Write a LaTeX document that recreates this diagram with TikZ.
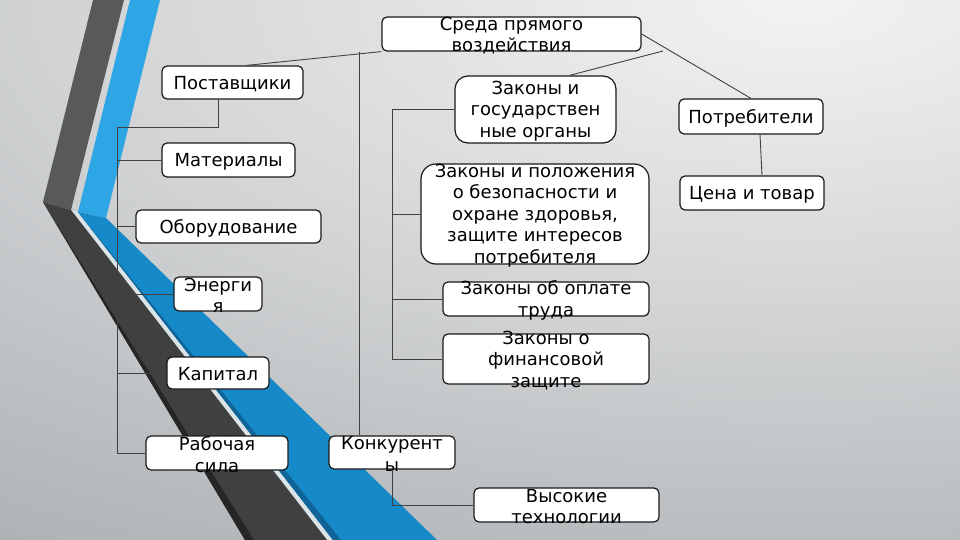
\documentclass[tikz,border=0pt]{standalone}
\usepackage{fontspec}
\setmainfont{DejaVu Sans}
\usepackage{tikz}

\definecolor{bgin}{HTML}{F3F3F3}
\definecolor{bgout}{HTML}{AEB2B5}
\definecolor{darkup}{HTML}{58595B}
\definecolor{darklow}{HTML}{404040}
\definecolor{bluup}{HTML}{2EA5E4}
\definecolor{blulow}{HTML}{1689C8}
\definecolor{blushade}{HTML}{0F6397}
\definecolor{gapline}{HTML}{D9E3E8}

\begin{document}
\begin{tikzpicture}[x=1pt,y=-1pt,
	box/.style 2 args={draw=black!90, fill=white, line width=1.2pt, rounded corners=5pt, minimum width=#1, minimum height=#2, inner sep=0pt},
	txt/.style={font=\fontsize{18}{21.5}\selectfont, align=center, inner sep=0pt, yshift=-1.5pt},
	link/.style={draw=black!75, line width=0.9pt}]
		\useasboundingbox (0,0) rectangle (960,540);
		\fill[bgout] (0,0) rectangle (960,540);
		\begin{scope}
			\clip (0,0) rectangle (960,540);
			\shade[inner color=bgin, outer color=bgout] (800,0) ellipse [x radius=1500, y radius=650];
		\end{scope}
		\fill[darkup] (93,0) -- (124,0) -- (71,210) -- (43,202) -- cycle;
		\fill[bluup] (130,0) -- (160,0) -- (106,218) -- (78,212) -- cycle;
		\fill[gapline] (71,210) -- (78,212) -- (333,540) -- (327,540) -- cycle;
		\fill[darklow] (43,202) -- (71,210) -- (327,540) -- (245,540) -- cycle;
		\fill[black!85] (43,202) -- (254,540) -- (245,540) -- cycle;
		\fill[blulow] (78,212) -- (106,218) -- (437,540) -- (333,540) -- cycle;
		\fill[blushade] (78,212) -- (341,540) -- (333,540) -- cycle;

		\node[box={259}{34}, label={[txt]center:{Среда прямого\\воздействия}}] (sreda) at (511.5,34) {};
		\node[box={141}{33}, label={[txt]center:{Поставщики}}] (post) at (232.5,82.5) {};
		\node[box={133}{34}, label={[txt]center:{Материалы}}] (mat) at (228.5,160) {};
		\node[box={185}{33}, label={[txt]center:{Оборудование}}] (obo) at (228.5,226.5) {};
		\node[box={88}{34}, label={[txt]center:{Энерги\\я}}] (ener) at (218,294) {};
		\node[box={102}{32}, label={[txt]center:{Капитал}}] (kap) at (218,373) {};
		\node[box={142}{34}, label={[txt]center:{Рабочая\\сила}}] (rab) at (217,453) {};
		\node[box={126}{33}, label={[txt]center:{Конкурент\\ы}}] (konk) at (392,452.5) {};
		\node[box={185}{34}, label={[txt]center:{Высокие\\технологии}}] (vys) at (566.5,505) {};
		\node[box={161}{67}, rounded corners=13pt, label={[txt]center:{Законы и\\государствен\\ные органы}}] (zak1) at (535.5,109.5) {};
		\node[box={228}{100}, rounded corners=15pt, label={[txt]center:{Законы и положения\\о безопасности и\\охране здоровья,\\защите интересов\\потребителя}}] (zak2) at (535,214) {};
		\node[box={206}{34}, label={[txt]center:{Законы об оплате\\труда}}] (zak3) at (546,299) {};
		\node[box={206}{50}, label={[txt]center:{Законы о\\финансовой\\защите}}] (zak4) at (546,359) {};
		\node[box={144}{35}, label={[txt]center:{Потребители}}] (potr) at (751,116.5) {};
		\node[box={144}{34}, label={[txt]center:{Цена и товар}}] (cena) at (752,193) {};

		\coordinate (knee) at (218,127);
		\coordinate (spine) at (117,127);
		\draw[link] (knee |- post.south) -- (knee) -- (spine) |- (rab.west);
		\foreach \n in {mat,obo,ener,kap}
			\draw[link] (spine |- \n.west) -- (\n.west);
		\draw[link] ([xshift=14pt]post.north) -- (sreda.south west);
		\coordinate (kt) at ([xshift=-33pt]konk.north);
		\draw[link] (kt) -- (kt |- sreda.south);
		\draw[link] (zak1.west) -- (zak1.west -| konk.south) |- (zak4.west);
		\foreach \n in {zak2,zak3}
			\draw[link] (\n.west) -- (\n.west -| konk.south);
		\coordinate (tail) at (663,51);
		\draw[link] ([xshift=34pt]zak1.north) -- (tail);
		\draw[link] (sreda.east) -- (potr.north);
		\draw[link] ([xshift=9pt]potr.south) -- ([xshift=10pt]cena.north);
		\draw[link] (konk.south) |- (vys.west);
	\end{tikzpicture}
\end{document}
